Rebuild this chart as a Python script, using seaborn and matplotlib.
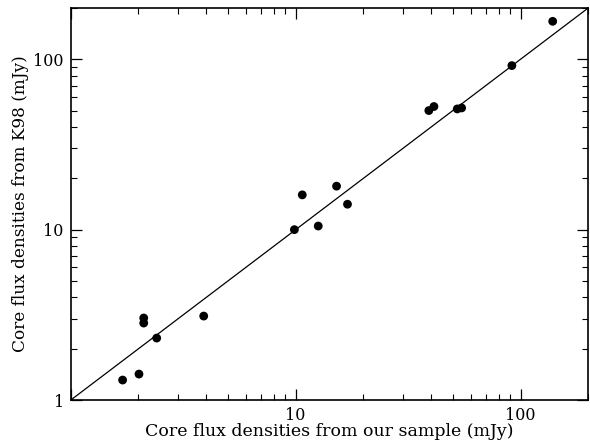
import numpy as np
import pandas as pd
import matplotlib
matplotlib.use("Agg")
import matplotlib.pyplot as plt
import matplotlib.ticker as mticker
import seaborn as sns

# -----------------------------
# DATA
# -----------------------------
our_flux = [1.70, 2.01, 2.11, 2.11, 2.41, 3.90, 9.87, 10.7, 12.6, 15.2, 17.0,
            39.1, 41.2, 52.3, 54.7, 91.5, 139]
k98_flux = [1.31, 1.42, 3.03, 2.83, 2.31, 3.11, 10.0, 16.0, 10.5, 18.0, 14.1,
            50.0, 52.8, 51.1, 51.8, 91.8, 167]
axis_range = [1, 200]

df = pd.DataFrame({"ours": our_flux, "k98": k98_flux})

# -----------------------------
# STYLE
# -----------------------------
sns.set_theme(style="ticks")
plt.rcParams["font.family"] = ["DejaVu Serif"]

fig = plt.figure(figsize=(5.9, 4.43), dpi=100)
ax = fig.add_axes([0.120, 0.097, 0.877, 0.885])

# one-to-one line
sns.lineplot(x=axis_range, y=axis_range, ax=ax, color="black", linewidth=0.9)

sns.scatterplot(data=df, x="ours", y="k98", ax=ax, color="black",
                s=40, edgecolor="none", zorder=3)

ax.set_xscale("log")
ax.set_yscale("log")
ax.set_xlim(axis_range)
ax.set_ylim(axis_range)

# x axis: the "1" at the corner is only labelled on the y axis
ax.xaxis.set_major_formatter(mticker.FuncFormatter(lambda v, p: "" if v < 2 else "%g" % v))
ax.yaxis.set_major_formatter(mticker.FuncFormatter(lambda v, p: "%g" % v))
ax.xaxis.set_minor_formatter(mticker.NullFormatter())
ax.yaxis.set_minor_formatter(mticker.NullFormatter())

ax.tick_params(which="both", direction="in", top=True, right=True,
               color="black", labelsize=11.5, labelcolor="black")
ax.tick_params(which="major", length=8, width=0.9, pad=5)
ax.tick_params(which="minor", length=4, width=0.8)
for sp in ax.spines.values():
    sp.set_color("black")
    sp.set_linewidth(1.2)

ax.set_xlabel("Core flux densities from our sample (mJy)", fontsize=12.5,
              color="black", labelpad=-1)
ax.set_ylabel("Core flux densities from K98 (mJy)", fontsize=12.2,
              color="black", labelpad=3)

plt.savefig("out.png", dpi=100)
